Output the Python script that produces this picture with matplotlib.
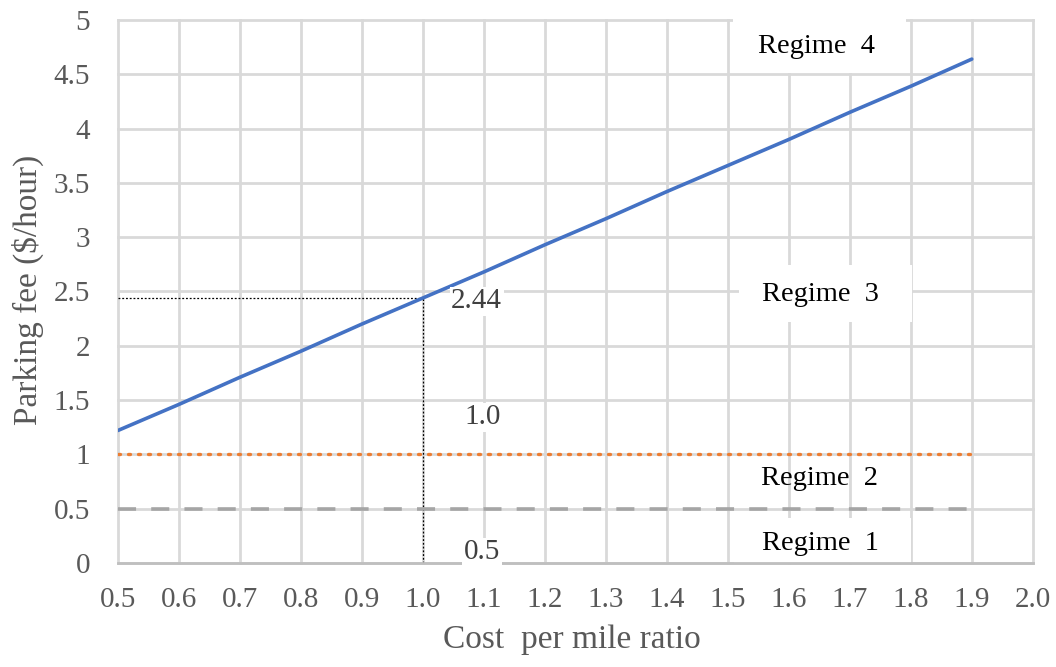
import matplotlib
matplotlib.use("Agg")
import matplotlib.pyplot as plt
from matplotlib.patches import Rectangle

# ---- data ----
cost_ratio = [0.5, 0.6, 0.7, 0.8, 0.9, 1.0, 1.1, 1.2, 1.3, 1.4, 1.5, 1.6, 1.7, 1.8, 1.9]
parking_fee = [1.22, 1.46, 1.71, 1.95, 2.20, 2.44, 2.68, 2.93, 3.17, 3.42, 3.66, 3.90, 4.15, 4.39, 4.64]
threshold_high = [1.0] * len(cost_ratio)
threshold_low = [0.5] * len(cost_ratio)
ref_x = 1.0
ref_y = 2.44
x_ticks = [0.5, 0.6, 0.7, 0.8, 0.9, 1.0, 1.1, 1.2, 1.3, 1.4, 1.5, 1.6, 1.7, 1.8, 1.9, 2.0]
x_tick_labels = ["0.5", "0.6", "0.7", "0.8", "0.9", "1.0", "1.1", "1.2", "1.3", "1.4",
                 "1.5", "1.6", "1.7", "1.8", "1.9", "2.0"]
y_ticks = [0, 0.5, 1, 1.5, 2, 2.5, 3, 3.5, 4, 4.5, 5]
y_tick_labels = ["0", "0.5", "1", "1.5", "2", "2.5", "3", "3.5", "4", "4.5", "5"]

plt.rcParams['font.family'] = ['Liberation Serif', 'DejaVu Serif']
TXT = '#595959'
GRID = '#d9d9d9'

fig = plt.figure(figsize=(10.56, 6.67), dpi=100)
ax = fig.add_axes([0.1117, 0.156, 0.8663, 0.814])
ax.set_xlim(0.5, 2.0)
ax.set_ylim(0, 5)

ax.set_axisbelow(True)
ax.grid(True, color=GRID, linewidth=2, zorder=0.5)
for gl in ax.get_xgridlines() + ax.get_ygridlines():
    gl.set_clip_on(False)
for s in ['top', 'right', 'left']:
    ax.spines[s].set_visible(False)
ax.spines['bottom'].set_color('#bfbfbf')
ax.spines['bottom'].set_linewidth(2)

ax.set_xticks(x_ticks)
ax.set_xticklabels(x_tick_labels)
ax.set_yticks(y_ticks)
ax.set_yticklabels(y_tick_labels)
ax.tick_params(length=0, labelsize=21, colors=TXT)
ax.tick_params(axis='x', pad=17)
ax.tick_params(axis='y', pad=20)

# white boxes behind regime labels (hide gridlines)
for (x0, x1, y0, y1) in [(1.508, 1.792, 4.51, 5.05), (1.518, 1.802, 2.22, 2.74),
                         (1.51, 1.80, 0.0, 0.41)]:
    ax.add_patch(Rectangle((x0, y0), x1 - x0, y1 - y0, facecolor='white',
                           edgecolor='none', zorder=1, clip_on=False))

ax.plot(cost_ratio, parking_fee, color='#4472C4', linewidth=2.6, zorder=3,
        solid_capstyle='round')
ax.plot(cost_ratio, threshold_high, color='#ED7D31', linewidth=2.4,
        linestyle=(0, (0.6, 2.4)), dash_capstyle='round', zorder=3)
ax.plot(cost_ratio, threshold_low, color='#A5A5A5', linewidth=2.6,
        linestyle=(0, (5, 4.2)), zorder=3)

ax.plot([ref_x, ref_x], [0, ref_y], color='black', linewidth=0.9,
        linestyle=(0, (1.5, 1.5)), zorder=2.5)
ax.plot([0.5, ref_x], [ref_y, ref_y], color='black', linewidth=0.9,
        linestyle=(0, (1.5, 1.5)), zorder=2.5)

bb = dict(facecolor='white', edgecolor='none', pad=1)
ax.text(1.088, 2.41, "2.44", fontsize=21, color='#404040', ha='center', va='center',
        bbox=bb, zorder=4)
ax.text(1.098, 1.34, "1.0", fontsize=21, color='#404040', ha='center', va='center',
        bbox=bb, zorder=4)
ax.text(1.097, 0.10, "0.5", fontsize=21, color='#404040', ha='center', va='center',
        bbox=bb, zorder=4)

ax.text(1.645, 4.76, "Regime  4", fontsize=20.5, color='black', ha='center', va='center', zorder=4)
ax.text(1.652, 2.47, "Regime  3", fontsize=20.5, color='black', ha='center', va='center', zorder=4)
ax.text(1.650, 0.78, "Regime  2", fontsize=20.5, color='black', ha='center', va='center', zorder=4)
ax.text(1.652, 0.18, "Regime  1", fontsize=20.5, color='black', ha='center', va='center', zorder=4)

ax.set_xlabel("Cost  per mile ratio", fontsize=24, color=TXT, va='center')
ax.set_ylabel("Parking fee ($/hour)", fontsize=24, color=TXT, va='center')
ax.xaxis.set_label_coords(0.496, -0.142)
ax.yaxis.set_label_coords(-0.098, 0.503)

fig.savefig("out.png", dpi=100)
